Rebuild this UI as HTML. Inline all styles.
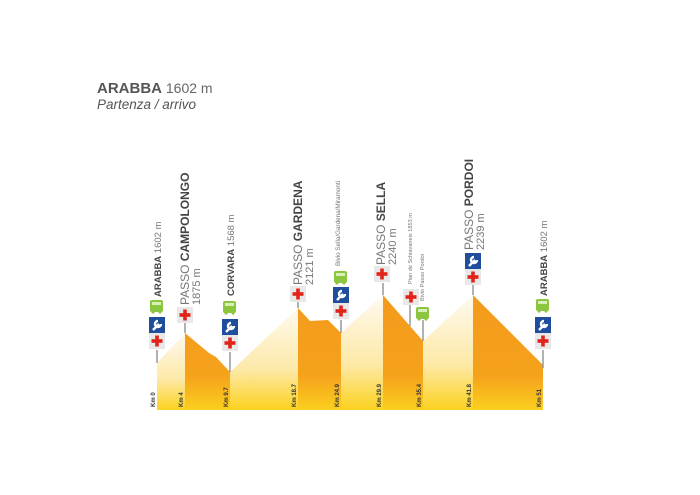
<!DOCTYPE html>
<html><head><meta charset="utf-8"><style>
html,body{margin:0;padding:0;background:#fff;}
svg{display:block;font-family:"Liberation Sans",sans-serif;}
</style></head><body>
<svg width="700" height="495" viewBox="0 0 700 495" xmlns="http://www.w3.org/2000/svg">
<defs>
<linearGradient id="lt" x1="0" y1="0" x2="0" y2="1" gradientUnits="objectBoundingBox">
<stop offset="0" stop-color="#fffaf0"/><stop offset="0.6" stop-color="#fde9a8"/><stop offset="1" stop-color="#fcd21e"/></linearGradient>
<linearGradient id="or" x1="0" y1="295" x2="0" y2="410" gradientUnits="userSpaceOnUse">
<stop offset="0" stop-color="#f39a1d"/><stop offset="0.7" stop-color="#f5a21b"/><stop offset="1" stop-color="#fbcf1f"/></linearGradient>
<g id="cross"><rect x="-8" y="-8" width="16" height="16" fill="#e8e8e8"/><rect x="-5.5" y="-1.8" width="11" height="3.6" fill="#e2231a"/><rect x="-1.8" y="-5.5" width="3.6" height="11" fill="#e2231a"/></g>
<g id="wr"><rect x="-8" y="-8" width="16" height="16" fill="#1f4e9c"/><path d="M-4 5 L2 -1 M1 -4 a3 3 0 1 0 3 3" stroke="#fff" stroke-width="2.4" fill="none"/></g>
<g id="bus"><rect x="-7" y="-6" width="13" height="12" rx="2" fill="#8cc63f"/><rect x="-5" y="-4" width="9" height="3" fill="#d9efb8"/><circle cx="-4" cy="6" r="1.6" fill="#8cc63f"/><circle cx="3" cy="6" r="1.6" fill="#8cc63f"/></g>
</defs>
<text x="97" y="93" font-size="15" fill="#555"><tspan font-weight="bold">ARABBA</tspan><tspan font-size="14" fill="#666"> 1602 m</tspan></text>
<text x="97" y="109" font-size="13.5" fill="#555" font-style="italic">Partenza / arrivo</text>

<polygon points="157,363 185,333 185,410 157,410" fill="url(#lt)"/>
<polygon points="185,333 209,353 216,357 230,372 230,410 185,410" fill="url(#or)"/>
<polygon points="230,372 298,308 298,410 230,410" fill="url(#lt)"/>
<polygon points="298,308 310,321 328,320 341,333 341,410 298,410" fill="url(#or)"/>
<polygon points="341,333 383,295 383,410 341,410" fill="url(#lt)"/>
<polygon points="383,295 423,341 423,410 383,410" fill="url(#or)"/>
<polygon points="423,341 473,295 473,410 423,410" fill="url(#lt)"/>
<polygon points="473,295 543,365 543,410 473,410" fill="url(#or)"/>

<g stroke="#999" stroke-width="1.5">
<line x1="157" y1="350" x2="157" y2="363"/><line x1="185" y1="323" x2="185" y2="333"/>
<line x1="230" y1="352" x2="230" y2="372"/><line x1="298" y1="302" x2="298" y2="308"/>
<line x1="341" y1="320" x2="341" y2="333"/><line x1="383" y1="283" x2="383" y2="295"/>
<line x1="410" y1="305" x2="410" y2="326"/><line x1="423" y1="320" x2="423" y2="341"/>
<line x1="473" y1="285" x2="473" y2="295"/><line x1="543" y1="350" x2="543" y2="368"/>
</g>

<g font-size="6" font-weight="bold" fill="#333">
<text transform="translate(155,407) rotate(-90)">Km 0</text>
<text transform="translate(183,407) rotate(-90)">Km 4</text>
<text transform="translate(228,407) rotate(-90)">Km 9.7</text>
<text transform="translate(296,407) rotate(-90)">Km 18.7</text>
<text transform="translate(339,407) rotate(-90)">Km 24.9</text>
<text transform="translate(381,407) rotate(-90)">Km 29.9</text>
<text transform="translate(421,407) rotate(-90)">Km 35.4</text>
<text transform="translate(471,407) rotate(-90)">Km 41.8</text>
<text transform="translate(541,407) rotate(-90)">Km 51</text>
</g>

<use href="#cross" x="157" y="341"/><use href="#wr" x="157" y="325"/><use href="#bus" x="157" y="306"/>
<use href="#cross" x="185" y="315"/>
<use href="#cross" x="230" y="343"/><use href="#wr" x="230" y="327"/><use href="#bus" x="230" y="307"/>
<use href="#cross" x="298" y="294"/>
<use href="#cross" x="341" y="311"/><use href="#wr" x="341" y="295"/><use href="#bus" x="341" y="277"/>
<use href="#cross" x="382" y="274"/>
<use href="#cross" x="411" y="297"/>
<use href="#bus" x="423" y="313"/>
<use href="#cross" x="473" y="277"/><use href="#wr" x="473" y="261"/>
<use href="#cross" x="543" y="341"/><use href="#wr" x="543" y="325"/><use href="#bus" x="543" y="305"/>

<g fill="#777">
<text transform="translate(161,297) rotate(-90)" font-size="9.5"><tspan font-weight="bold" fill="#444">ARABBA</tspan> 1602 m</text>
<text transform="translate(189,305) rotate(-90)" font-size="12">PASSO <tspan font-weight="bold" fill="#444">CAMPOLONGO</tspan></text>
<text transform="translate(200,305) rotate(-90)" font-size="11">1875 m</text>
<text transform="translate(234,296) rotate(-90)" font-size="9.5"><tspan font-weight="bold" fill="#444">CORVARA</tspan> 1568 m</text>
<text transform="translate(302,285) rotate(-90)" font-size="12">PASSO <tspan font-weight="bold" fill="#444">GARDENA</tspan></text>
<text transform="translate(313,285) rotate(-90)" font-size="11">2121 m</text>
<text transform="translate(340,266) rotate(-90)" font-size="6.3">Bivio Sella/Gardena/Miramonti</text>
<text transform="translate(385,265) rotate(-90)" font-size="12">PASSO <tspan font-weight="bold" fill="#444">SELLA</tspan></text>
<text transform="translate(396,265) rotate(-90)" font-size="11">2240 m</text>
<text transform="translate(412,284) rotate(-90)" font-size="5.6">Pian de Schiavaneis 1853 m</text>
<text transform="translate(424,301) rotate(-90)" font-size="5.6">Bivio Passo Pordoi</text>
<text transform="translate(473,250) rotate(-90)" font-size="12">PASSO <tspan font-weight="bold" fill="#444">PORDOI</tspan></text>
<text transform="translate(484,250) rotate(-90)" font-size="11">2239 m</text>
<text transform="translate(547,296) rotate(-90)" font-size="9.5"><tspan font-weight="bold" fill="#444">ARABBA</tspan> 1602 m</text>
</g>
</svg>
</body></html>
